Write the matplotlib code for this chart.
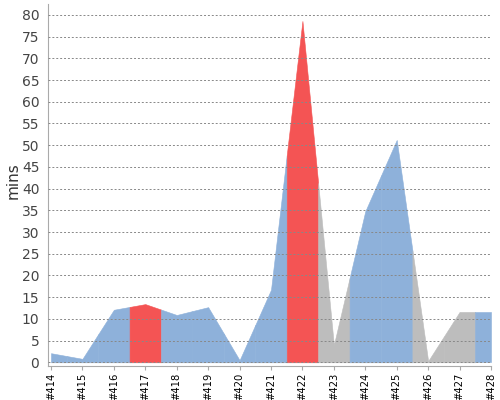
import numpy as np
import matplotlib
matplotlib.use("Agg")
import matplotlib.pyplot as plt

builds = ["#414", "#415", "#416", "#417", "#418", "#419", "#420", "#421",
          "#422", "#423", "#424", "#425", "#426", "#427", "#428"]
mins = [2.1, 0.8, 12.1, 13.4, 10.9, 12.7, 0.5, 16.7,
        78.6, 4.0, 34.8, 51.2, 0.3, 11.6, 11.6]
status = ["ok", "ok", "ok", "fail", "ok", "ok", "ok", "ok",
          "fail", "abort", "ok", "ok", "abort", "abort", "ok"]

colors = {"ok": "#8eb1da", "fail": "#f45454", "abort": "#bdbdbd"}

fig = plt.figure(figsize=(5, 4), dpi=100)
ax = fig.add_axes([0.0954, 0.085, 0.8866, 0.905])

x = np.arange(len(builds))
y = np.array(mins)
n = len(builds)
for i in range(n):
    lo = max(i - 0.5, 0)
    hi = min(i + 0.5, n - 1)
    xs = np.array([lo, i, hi])
    ys = np.interp(xs, x, y)
    c = colors[status[i]]
    ax.fill_between(xs, 0, ys, facecolor=c, edgecolor=c, linewidth=0.4)

ax.set_xlim(-0.105, n - 1)
ax.set_ylim(-0.85, 82.5)
ax.set_yticks(np.arange(0, 81, 5))
ax.set_xticks(x)
ax.set_xticklabels(builds, rotation=90, fontsize=7.2, color="black")
ax.tick_params(axis="y", length=0, labelsize=10, labelcolor="#444444", pad=6)
ax.tick_params(axis="x", length=3, color="#aaaaaa", pad=1.5)
ax.set_ylabel("mins", fontsize=11, color="#333333")
ax.yaxis.set_label_coords(-0.062, 0.512)

ax.grid(axis="y", color="#888888", linestyle=(0, (2, 2)), linewidth=0.7)
ax.set_axisbelow(False)
for s in ["top", "right"]:
    ax.spines[s].set_visible(False)
for s in ["left", "bottom"]:
    ax.spines[s].set_color("#aaaaaa")

fig.savefig("out.png", dpi=100)
